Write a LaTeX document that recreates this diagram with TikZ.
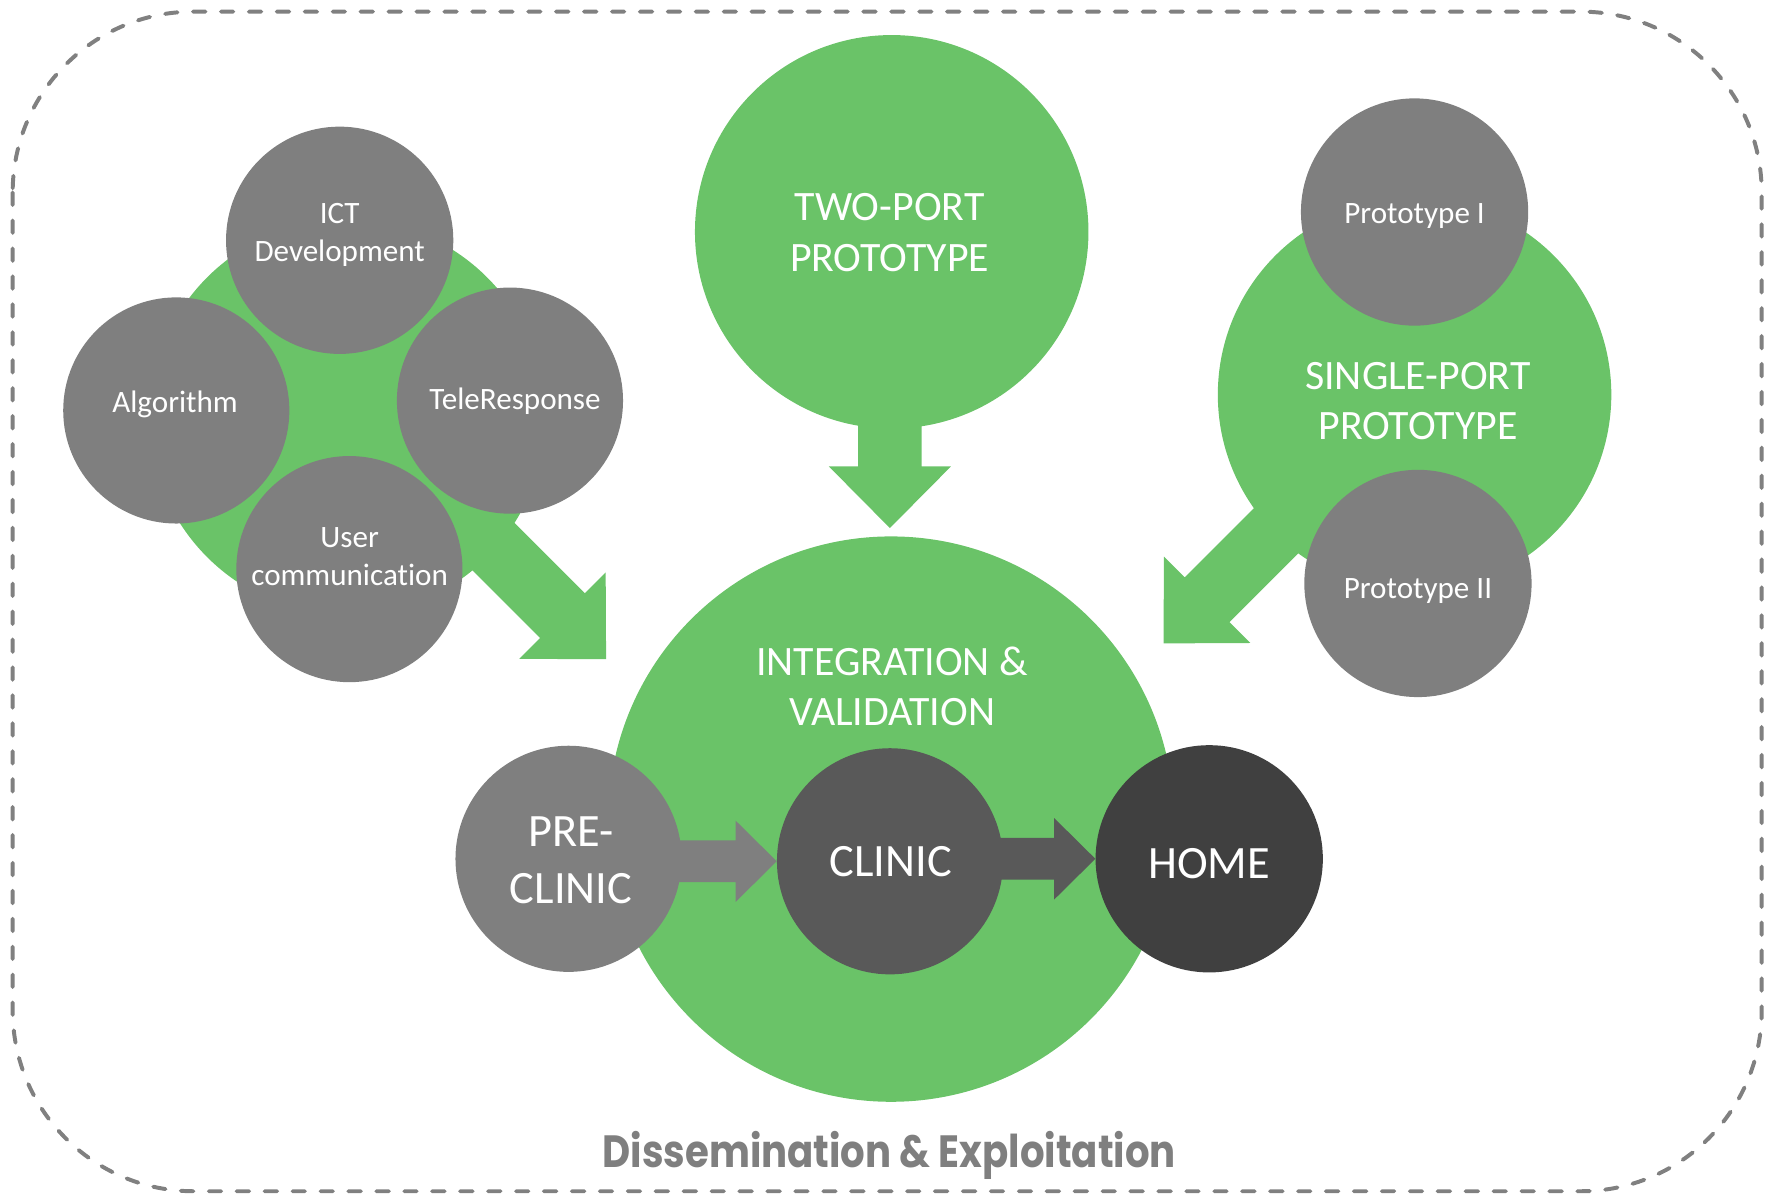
\documentclass[tikz,border=0pt]{standalone}
\usepackage{fontspec}
\setmainfont{Carlito}[Ligatures=NoCommon]
\newfontfamily\dissfont{Poppins}[Ligatures=NoCommon]
\usepackage{graphicx}
\definecolor{grn}{RGB}{106,195,104}
\definecolor{gA}{RGB}{127,127,127}
\definecolor{gB}{RGB}{89,89,89}
\definecolor{gC}{RGB}{64,64,64}
\definecolor{frame}{RGB}{128,128,128}
\tikzset{
  disc/.style={circle,inner sep=0pt,minimum size=#1,draw=none},
  lab/.style={text=white,inner sep=0pt,align=center},
  smalltxt/.style={lab,font=\fontsize{27.5}{33}\selectfont},
  bigtxt/.style={lab,font=\fontsize{37}{44.5}\selectfont},
  hugetxt/.style={lab,font=\fontsize{41}{50}\selectfont},
  greenarrow/.pic={\fill[grn] (0,0) -- (-54.5,-54) -- (-54.5,-28) -- (-260,-28) -- (-260,28) -- (-54.5,28) -- (-54.5,54) -- cycle;},
  greyarrow/.pic={\fill (0,0) -- (-36.4,-36) -- (-36.4,-18.5) -- (-130,-18.5) -- (-130,18.5) -- (-36.4,18.5) -- (-36.4,36) -- cycle;}
}
\begin{document}
\begin{tikzpicture}[x=1pt,y=-1pt]
\useasboundingbox (0,0) rectangle (1568,1056);
% frame
\draw[frame,line width=3.5pt,dash pattern=on 11pt off 13.7pt,line cap=round,rounded corners=160pt]
  (11.2,10.3) rectangle (1558,1053.5);
% green discs
\node[disc=350pt,fill=grn] (leftgrp) at (307,369) {};
\node[disc=348pt,fill=grn] (twoport) at (788.6,205) {};
\node[disc=348pt,fill=grn] (single) at (1251,349) {};
\node[disc=500pt,fill=grn] (integ) at (788,724.4) {};
% green block arrows
\coordinate (tipL) at (536,583);
\coordinate (tipD) at (787,467);
\coordinate (tipR) at (1029,569);
\pic[rotate=-45] at (tipL) {greenarrow};
\pic[rotate=-90] at (tipD) {greenarrow};
\pic[rotate=-135] at (tipR) {greenarrow};
% grey discs left group
\node[disc=201pt,fill=gA] (ict) at (300.4,212.5) {};
\node[disc=200pt,fill=gA] (alg) at (155.9,363) {};
\node[disc=200pt,fill=gA] (tele) at (451,354.3) {};
\node[disc=200pt,fill=gA] (user) at (309,503.3) {};
% grey discs right group
\node[disc=201pt,fill=gA] (p1) at (1251,187.5) {};
\node[disc=201pt,fill=gA] (p2) at (1254,516) {};
% pipeline
\node[disc=200pt,fill=gB] (clinic) at (787.1,761.7) {};
\node[disc=201pt,fill=gC] (home) at (1069.4,759.5) {};
\pic[fill=gA] at (clinic.west) {greyarrow};
\pic[fill=gB] at (home.west) {greyarrow};
\node[disc=200pt,fill=gA] (pre) at (502.8,759.5) {};
% texts
\node[smalltxt,anchor=north] (ict-t) at (300.4,179.8) {ICT\\Development};
\node[smalltxt,anchor=base] (alg-t) at (154.8,364.7) {Algorithm};
\node[smalltxt,anchor=base] (tele-t) at (455.5,362) {TeleResponse};
\node[smalltxt,anchor=north] (user-t) at (309.2,466.7) {User\\communication};
\node[smalltxt,anchor=base] (p1-t) at (1251,197.5) {Prototype I};
\node[smalltxt,anchor=base] (p2-t) at (1254,529.2) {Prototype II};
\node[bigtxt,anchor=north] (two-t) at (786.7,171) {TWO-PORT\\PROTOTYPE};
\node[bigtxt,anchor=north] (single-t) at (1254,319.9) {SINGLE-PORT\\PROTOTYPE};
\node[bigtxt,anchor=north] (integ-t) at (789,571.9) {INTEGRATION \&\\VALIDATION};
\node[hugetxt,anchor=north] (pre-t) at (505,722.3) {PRE-\\CLINIC};
\node[hugetxt,anchor=base] (clinic-t) at (787.9,775.3) {CLINIC};
\node[hugetxt,anchor=base] (home-t) at (1069.4,777.1) {HOME};
\node[anchor=base,text=gA,inner sep=0pt] (diss) at (786.5,1032.5)
  {\resizebox{507pt}{32pt}{\dissfont\bfseries Dissemination \& Exploitation}};
\end{tikzpicture}
\end{document}
